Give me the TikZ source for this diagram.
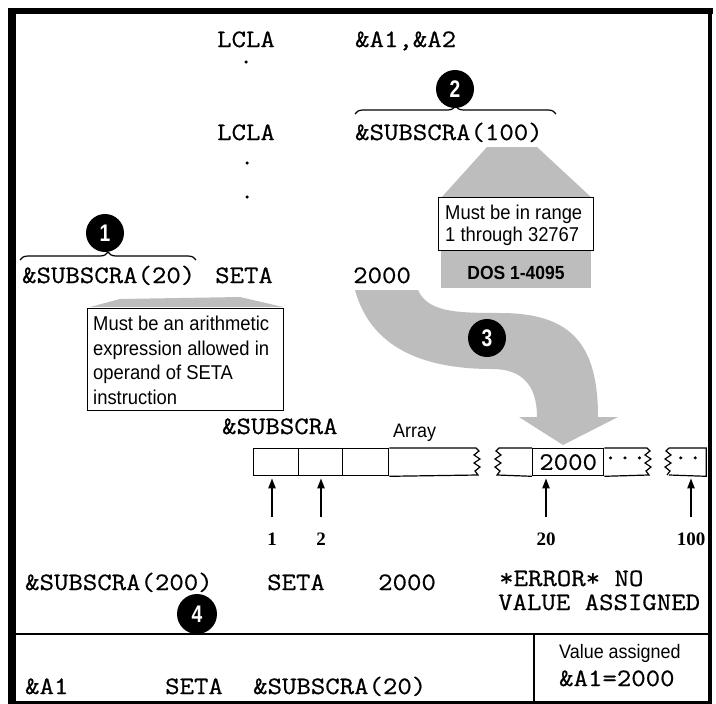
\documentclass[tikz,border=0pt]{standalone}
\usepackage{fontspec}
\setmainfont[FakeStretch=0.92]{Liberation Sans}
\newfontfamily\monofont[FakeStretch=1.12,FakeBold=0.6]{Latin Modern Mono}
\newfontfamily\labelfont{Liberation Serif}
\newfontfamily\badgefont[FakeStretch=0.8]{Liberation Sans}
\usetikzlibrary{decorations.pathreplacing,arrows.meta}
\definecolor{halftone}{gray}{0.74}
\begin{document}
\begin{tikzpicture}[x=1pt,y=-1pt,
  code/.style={font=\monofont\fontsize{25}{26}\selectfont, inner sep=0pt, anchor=base west},
  note/.style={font=\fontsize{20}{24.5}\selectfont, inner sep=0pt, anchor=north west, align=left},
  sans/.style={font=\fontsize{19.5}{20}\selectfont, inner sep=0pt, anchor=base west},
  badge/.style={circle, fill=black, minimum size=38pt, inner sep=0pt, text=white, font=\badgefont\bfseries\fontsize{24}{24}\selectfont},
  callbox/.style={draw, line width=1.2pt, fill=white, inner sep=0pt, anchor=north west},
  cell/.style={draw, line width=1.3pt, inner sep=0pt, minimum height=27pt, anchor=north west, font=\monofont\fontsize{25}{26}\selectfont},
  idx/.style={font=\labelfont\bfseries\fontsize{19}{19}\selectfont, inner sep=0pt, anchor=base},
  ptr/.style={-{Triangle[length=10pt,width=7pt]}, line width=2pt, shorten >=2pt},
  dotmark/.style={circle, fill=black, inner sep=0pt, minimum size=3.5pt},
  wave/.style={line width=1.2pt},
  overbrace/.style={decorate, decoration={brace, amplitude=8pt}, line width=1.2pt},
]
\useasboundingbox (0,0) rectangle (716,704);
\fill[white] (0,0) rectangle (716,704);

% frame
\draw[line width=6pt] (9,10.5) -- (713,10.5);
\draw[line width=8pt] (12,7.5) -- (12,704);
\draw[line width=4pt] (710,8) -- (710,704);
\draw[line width=3pt] (8,702) -- (712,702);
\draw[line width=2pt] (12,634) -- (710,634);
\draw[line width=1.5pt] (534,634) -- (534,702);

% grey shapes
\fill[halftone] (487,147) -- (537,147) -- (592,198) -- (441,198) -- cycle;
\fill[halftone] (441,250) rectangle (591,288);
\fill[halftone] (90,307) -- (120,299) -- (240,297) -- (283,307) -- cycle;
\fill[halftone] (355,290) -- (418,290)
  .. controls (428,312) and (455,313) .. (500,313)
  .. controls (572,313) and (598,345) .. (598,417)
  -- (618,417) -- (563,445) -- (519,417) -- (537,417)
  .. controls (537,385) and (522,369) .. (492,369)
  .. controls (430,369) and (372,352) .. (355,290) -- cycle;

% declarations
\node[code] (lcla1) at (217,47) {LCLA};
\node[code] (args1) at (355,47) {\&A1,\&A2};
\node[dotmark] (d1) at (246,62) {};
\node[code] (lcla2) at (217,140) {LCLA};
\node[code] (decl) at (355,140) {\&SUBSCRA(100)};
\node[dotmark] (d2) at (247,163) {};
\node[dotmark] (d3) at (247,197) {};
\draw[overbrace] (355,114) -- (556,114);
\node[badge] (n2) at (455,89) {2};

% callout 2
\node[callbox, minimum width=155pt, minimum height=53pt] (rng) at (438,197) {};
\node[note, font=\fontsize{20}{21.5}\selectfont] (rngtext) at (445,205) {Must be in range\\1 through 32767};
\node[font=\bfseries\fontsize{19}{20}\selectfont, inner sep=0pt, anchor=base] (dos) at (516,279) {DOS 1-4095};

% SETA line
\node[code] (sub20) at (22,283) {\&SUBSCRA(20)};
\node[code] (seta1) at (215,283) {SETA};
\node[code] (val1) at (353,283) {2000};
\draw[overbrace] (20,260) -- (196,260);
\node[badge] (n1) at (105,233) {1};

% callout 1
\node[callbox, minimum width=196pt, minimum height=102pt] (expr) at (87,308) {};
\node[note] (exprtext) at (93,316) {Must be an arithmetic\\expression allowed in\\operand of SETA\\instruction};

\node[badge] (n3) at (487,338) {3};

% array
\node[code] (arrname) at (222,434) {\&SUBSCRA};
\node[sans] (arrlab) at (393,437) {Array};
\node[cell, minimum width=45pt] (c1) at (253,448) {};
\node[cell, minimum width=44pt] (c2) at (298,448) {};
\node[cell, minimum width=46pt] (c3) at (342,448) {};
\draw[wave] (c3.north east) -- (476,448) -- (479,451) -- (474,455) -- (480,459) -- (474,463) -- (480,467) -- (475,471) -- (478,475) -- (c3.south east);
\node[cell, minimum width=71pt] (c20) at (532,448) {2000};
\draw[wave] (c20.north west) -- (499,448) -- (496,451) -- (501,455) -- (495,459) -- (501,463) -- (495,467) -- (500,471) -- (497,475) -- (c20.south west);
\draw[wave] (c20.north east) -- (647,448) -- (650,451) -- (645,455) -- (651,459) -- (645,463) -- (651,467) -- (646,471) -- (649,475) -- (c20.south east);
\node[font=\monofont\fontsize{25}{26}\selectfont, inner sep=0pt] (more) at (625,461) {···};
\node[cell, minimum width=36pt, draw=none] (c100) at (669,448) {};
\draw[wave] (669,448) -- (c100.north east) -- (c100.south east) -- (669,475);
\draw[wave] (669,448) -- (666,451) -- (671,455) -- (665,459) -- (671,463) -- (665,467) -- (670,471) -- (667,475);
\node[font=\monofont\fontsize{25}{26}\selectfont, inner sep=0pt] (tail) at (688,461) {··};

\node[idx] (i1) at (272,545) {1};
\node[idx] (i2) at (321,545) {2};
\node[idx] (i20) at (546,545) {20};
\node[idx] (i100) at (691,545) {100};
\draw[ptr] ([yshift=15pt]i1.north) -- (i1.north |- c1.south);
\draw[ptr] ([yshift=15pt]i2.north) -- (i2.north |- c2.south);
\draw[ptr] ([yshift=15pt]i20.north) -- (i20.north |- c20.south);
\draw[ptr] ([yshift=15pt]i100.north) -- (i100.north |- c100.south);

% error line
\node[code] (sub200) at (25,590) {\&SUBSCRA(200)};
\node[code] (seta2) at (267,590) {SETA};
\node[code] (val2) at (378,590) {2000};
\node[code] (err1) at (499,586) {*ERROR* NO};
\node[code] (err2) at (498,610) {VALUE ASSIGNED};
\node[badge, minimum size=40pt] (n4) at (197,614) {4};

% bottom row
\node[code] (a1) at (25,694) {\&A1};
\node[code] (seta3) at (165,694) {SETA};
\node[code] (ref20) at (253,694) {\&SUBSCRA(20)};
\node[sans] (va) at (559,658) {Value assigned};
\node[code] (res) at (559,686) {\&A1=2000};
\end{tikzpicture}
\end{document}
